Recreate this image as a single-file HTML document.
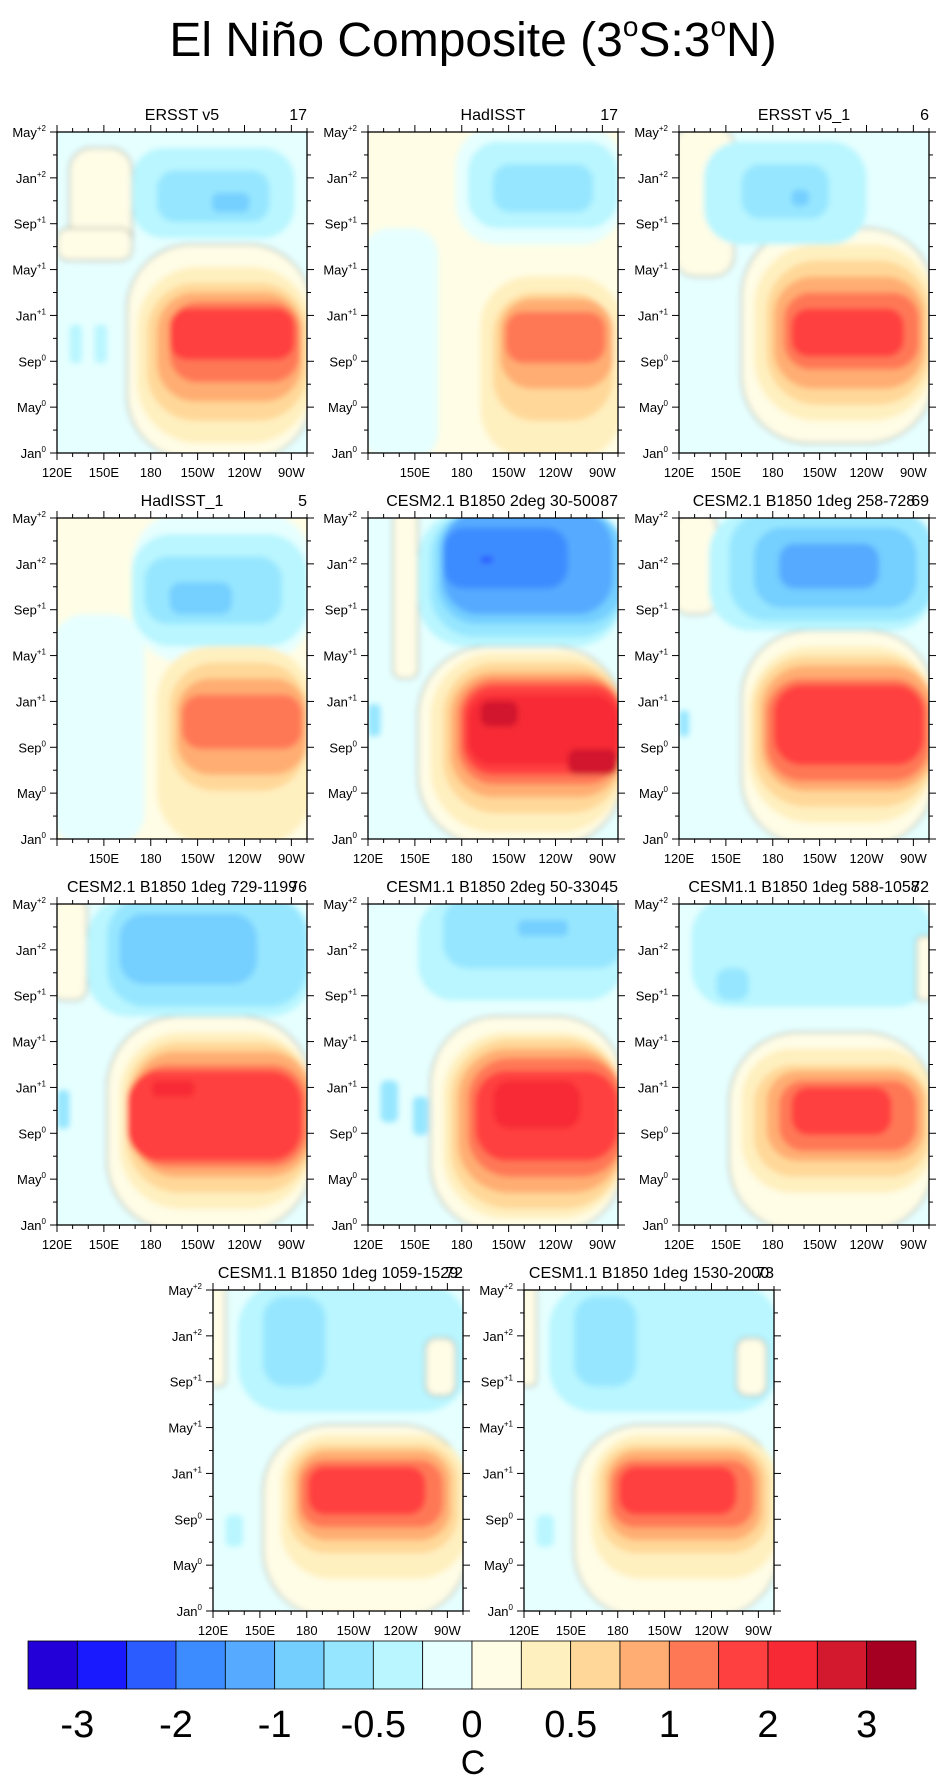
<!DOCTYPE html>
<html><head><meta charset="utf-8">
<style>
html,body{margin:0;padding:0;background:#fff;}
body{width:946px;height:1779px;overflow:hidden;font-family:"Liberation Sans",sans-serif;}
</style></head>
<body>
<svg id="fig" width="946" height="1779" viewBox="0 0 946 1779" xmlns="http://www.w3.org/2000/svg" font-family="Liberation Sans, sans-serif">
<defs><filter id="soft" x="-5%" y="-5%" width="110%" height="110%"><feGaussianBlur stdDeviation="3"/></filter></defs>
<text x="473" y="56" text-anchor="middle" font-size="48">El Niño Composite (3<tspan font-size="28" dy="-20">o</tspan><tspan dy="20">S:3</tspan><tspan font-size="28" dy="-20">o</tspan><tspan dy="20">N)</tspan></text>
</svg>
<script>
const colors=["#2400d8","#1a1aff","#2b5cff","#3d8cff","#56aaff","#74cfff","#96e6ff","#b9f6ff","#e6ffff","#fffde6","#fff0c0","#ffd899","#ffad72","#ff7856","#ff4040","#f72935","#d2192e","#a50021"];
const cbLabels=["-3","-2","-1","-0.5","0","0.5","1","2","3"];
const panelTitles=["ERSST v5","HadISST","ERSST v5_1","HadISST_1","CESM2.1 B1850 2deg 30-500","CESM2.1 B1850 1deg 258-728","CESM2.1 B1850 1deg 729-1199","CESM1.1 B1850 2deg 50-330","CESM1.1 B1850 1deg 588-1058","CESM1.1 B1850 1deg 1059-1529","CESM1.1 B1850 1deg 1530-2000"];
const panelNums=["17","17","6","5","87","69","76","45","72","72","73"];
const panelBg=[8,9,8,9,8,8,8,8,8,8,8];
const xTickLabels=["120E","150E","180","150W","120W","90W"];
const xTickLons=[120,150,180,210,240,270];
const yTickLabels=[["May","+2"],["Jan","+2"],["Sep","+1"],["May","+1"],["Jan","+1"],["Sep","0"],["May","0"],["Jan","0"]];
const regions=[
[[.05,.05,.3,.4,9],[.0,.3,.3,.4,9],[.28,.35,1.02,1.02,9],[.32,.42,1.02,.97,10],[.36,.47,1.0,.9,11],[.4,.5,.98,.84,12],[.45,.53,.97,.78,13],[.45,.55,.95,.71,14],[.3,.05,.95,.33,7],[.4,.12,.85,.28,6],[.62,.19,.77,.25,5],[.05,.6,.1,.72,7],[.15,.6,.2,.72,7]],
[[-.02,.3,.28,1.02,8],[.35,-.02,1.02,.35,8],[.4,.03,1.0,.3,7],[.5,.1,.9,.25,6],[.45,.45,1.02,1.02,10],[.5,.5,.98,.9,11],[.53,.52,.98,.8,12],[.55,.56,.95,.72,13]],
[[-.02,-.02,.22,.45,9],[.25,.3,1.02,.97,9],[.3,.35,1.02,.9,10],[.35,.4,1.0,.85,11],[.38,.45,.98,.8,12],[.42,.5,.96,.74,13],[.45,.55,.9,.7,14],[.1,.03,.75,.35,7],[.25,.1,.6,.27,6],[.45,.18,.52,.23,5]],
[[-.02,.3,.35,1.02,8],[.3,-.02,1.02,.45,8],[.3,.05,1.0,.4,7],[.35,.12,.9,.33,6],[.45,.2,.7,.3,5],[.4,.4,1.02,1.02,10],[.45,.45,1.0,.85,11],[.48,.5,1.0,.8,12],[.5,.55,.98,.72,13]],
[[.1,-.02,.2,.5,9],[.2,.4,1.02,1.02,9],[.25,.42,1.02,.98,10],[.3,.45,1.02,.92,11],[.33,.48,1.02,.87,12],[.36,.5,1.02,.83,13],[.38,.52,1.02,.8,14],[.4,.55,1.0,.77,15],[.45,.57,.6,.65,16],[.8,.72,1.0,.8,16],[.2,-.02,1.02,.4,7],[.25,-.02,1.02,.37,6],[.28,-.02,1.02,.33,5],[.3,-.02,.98,.3,4],[.3,.03,.8,.22,3],[.45,.12,.5,.14,2],[.0,.58,.05,.68,6]],
[[-.02,-.02,.15,.3,9],[.25,.35,1.02,1.02,9],[.28,.4,1.02,.95,10],[.3,.43,1.02,.9,11],[.33,.46,1.02,.85,12],[.35,.5,1.0,.82,13],[.38,.52,.98,.77,14],[.12,-.02,1.02,.35,7],[.2,-.02,1.02,.32,6],[.3,.03,.95,.28,5],[.4,.08,.8,.22,4],[.0,.6,.04,.68,6]],
[[-.02,-.02,.12,.3,9],[.2,.35,1.02,1.02,9],[.25,.4,1.02,.95,10],[.28,.43,1.02,.9,11],[.3,.46,1.02,.85,12],[.3,.5,1.0,.82,13],[.28,.52,.98,.8,14],[.38,.55,.55,.6,15],[.12,-.02,1.02,.35,7],[.2,-.02,1.0,.32,6],[.25,.03,.8,.25,5],[.0,.58,.05,.7,6]],
[[.2,-.02,1.02,.3,7],[.3,-.02,1.02,.2,6],[.6,.05,.8,.1,5],[.25,.35,1.02,1.02,9],[.3,.4,1.02,.98,10],[.33,.42,1.02,.95,11],[.36,.45,1.02,.9,12],[.4,.48,1.02,.85,13],[.43,.52,1.0,.8,14],[.5,.55,.85,.7,15],[.05,.55,.12,.68,6],[.18,.6,.24,.72,6]],
[[.05,-.02,1.02,.32,7],[.15,.2,.28,.3,6],[.95,.1,1.02,.3,9],[.2,.4,1.02,1.02,9],[.25,.45,1.02,.9,10],[.3,.5,1.0,.85,11],[.35,.52,.98,.8,12],[.4,.55,.95,.77,13],[.45,.57,.85,.72,14]],
[[-.02,-.02,.05,.3,9],[.1,-.02,1.02,.38,7],[.2,.02,.45,.3,6],[.85,.15,.97,.33,9],[.2,.42,1.02,1.02,9],[.27,.45,1.02,.9,10],[.3,.48,.98,.82,11],[.33,.5,.95,.78,12],[.35,.53,.92,.74,13],[.38,.55,.85,.7,14],[.05,.7,.12,.8,7]],
[[-.02,-.02,.05,.3,9],[.1,-.02,1.02,.38,7],[.2,.02,.45,.3,6],[.85,.15,.97,.33,9],[.2,.42,1.02,1.02,9],[.27,.45,1.02,.9,10],[.3,.48,.98,.82,11],[.33,.5,.95,.78,12],[.35,.53,.92,.74,13],[.38,.55,.85,.7,14],[.05,.7,.12,.8,7]]
];
const NS="http://www.w3.org/2000/svg";
const svg=document.getElementById('fig');
function mk(tag,attrs,parent){const e=document.createElementNS(NS,tag);for(const k in attrs)e.setAttribute(k,attrs[k]);(parent||svg).appendChild(e);return e;}
const PW=250,PH=321;
const pos=[[57,132],[368,132],[679,132],[57,518],[368,518],[679,518],[57,904],[368,904],[679,904],[213,1290],[524,1290]];
const lonMin=120,lonMax=280;
function xs(lon){return (lon-lonMin)/(lonMax-lonMin)*PW;}
pos.forEach((p,i)=>{
  const g=mk('g',{transform:`translate(${p[0]},${p[1]})`});
  
  
  const cid='clip'+i;
  const cp=mk('clipPath',{id:cid},g);mk('rect',{x:0,y:0,width:PW,height:PH},cp);
  const outer=mk('g',{'clip-path':`url(#${cid})`},g);
  mk('rect',{x:0,y:0,width:PW,height:PH,fill:colors[panelBg[i]]},outer);
  const inner=mk('g',{filter:'url(#soft)'},outer);
  regions[i].forEach(b=>{
    const x=b[0]*PW,y=b[1]*PH,w=(b[2]-b[0])*PW,h=(b[3]-b[1])*PH;
    const r=Math.min(w,h)*0.35;
    const e=mk('rect',{x:x,y:y,width:w,height:h,rx:r,ry:r,fill:colors[b[4]]},inner);
    if(b[4]===9) e.setAttribute('stroke','#666');
    
    
  });
  mk('rect',{x:0,y:0,width:PW,height:PH,fill:'none',stroke:'#000','stroke-width':1.3},g);
  for(let lon=120;lon<=280;lon+=10){
    const x=xs(lon),major=(lon%30===0);
    const L=major?7:4;
    mk('line',{x1:x,y1:PH,x2:x,y2:PH+L,stroke:'#000'},g);
    mk('line',{x1:x,y1:0,x2:x,y2:-L,stroke:'#000'},g);
  }
  xTickLabels.forEach((t,k)=>{
    if((i===1||i===3)&&k===0)return;
    const tx=mk('text',{x:xs(xTickLons[k]),y:PH+24,'text-anchor':'middle','font-size':13},g);
    tx.textContent=t;
    
    
  });
  for(let m=0;m<=14;m++){
    const y=m*PH/14,major=(m%2===0),L=major?7:4;
    mk('line',{x1:0,y1:y,x2:-L,y2:y,stroke:'#000'},g);
    mk('line',{x1:PW,y1:y,x2:PW+L,y2:y,stroke:'#000'},g);
  }
  yTickLabels.forEach((t,k)=>{
    const tx=mk('text',{x:-11,y:k*PH/7+5,'text-anchor':'end','font-size':13},g);
    tx.innerHTML=t[0]+`<tspan font-size="8" dy="-6">${t[1]}</tspan>`;
    
    
  });
  const tt=mk('text',{x:PW/2,y:-12,'text-anchor':'middle','font-size':16},g);
  tt.textContent=panelTitles[i];
  
  
  const tn=mk('text',{x:PW,y:-12,'text-anchor':'end','font-size':16},g);
  tn.textContent=panelNums[i];
  
  
});
const cbX=28,cbW=888,cbY=1641,cbH=48,bw=cbW/colors.length;
const cb=mk('g',{});


colors.forEach((c,k)=>{
  const r=mk('rect',{x:cbX+k*bw,y:cbY,width:bw,height:cbH,fill:c,stroke:'#000','stroke-width':0.8},cb);
  
  
});
cbLabels.forEach((t,k)=>{
  const tx=mk('text',{x:cbX+(2*k+1)*bw,y:1737,'text-anchor':'middle','font-size':38},cb);
  tx.textContent=t;
  
  
});
const cu=mk('text',{x:473,y:1774,'text-anchor':'middle','font-size':34},cb);
cu.textContent='C';


</script>
</body></html>
